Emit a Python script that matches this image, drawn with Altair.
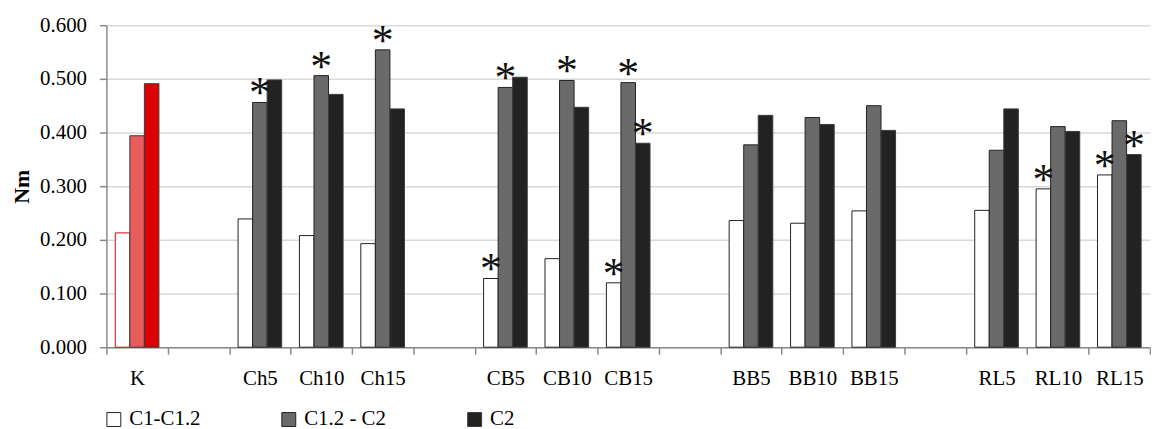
import altair as alt
import pandas as pd

# ---- data ----
categories = ["K", "Ch5", "Ch10", "Ch15", "CB5", "CB10", "CB15",
              "BB5", "BB10", "BB15", "RL5", "RL10", "RL15"]
# x slots, with empty gaps between groups
slots = ["K", " ", "Ch5", "Ch10", "Ch15", "  ", "CB5", "CB10", "CB15",
         "   ", "BB5", "BB10", "BB15", "    ", "RL5", "RL10", "RL15"]
series = ["C1-C1.2", "C1.2 - C2", "C2"]

c1 = [0.213, 0.239, 0.208, 0.193, 0.128, 0.165, 0.120, 0.236, 0.231, 0.254, 0.255, 0.295, 0.321]
c12 = [0.394, 0.456, 0.506, 0.554, 0.484, 0.497, 0.493, 0.377, 0.428, 0.450, 0.367, 0.411, 0.422]
c2 = [0.491, 0.498, 0.471, 0.444, 0.503, 0.447, 0.380, 0.432, 0.415, 0.404, 0.444, 0.402, 0.359]

star_c1 = [0, 0, 0, 0, 1, 0, 1, 0, 0, 0, 0, 1, 1]
star_c12 = [0, 1, 1, 1, 1, 1, 1, 0, 0, 0, 0, 0, 0]
star_c2 = [0, 0, 0, 0, 0, 0, 1, 0, 0, 0, 0, 0, 1]

y_ticks = [0.0, 0.1, 0.2, 0.3, 0.4, 0.5, 0.6]

rows = []
for i, cat in enumerate(categories):
    for s, vals, stars in zip(series, [c1, c12, c2], [star_c1, star_c12, star_c2]):
        key = s + (" (K)" if cat == "K" else "")
        rows.append(dict(cat=cat, series=s, value=vals[i], key=key,
                         star="*" if stars[i] else ""))
df = pd.DataFrame(rows)

keys = series + [s + " (K)" for s in series]
fills = ["#ffffff", "#6a6a6a", "#222222", "#ffffff", "#e85c5c", "#dd0000"]
strokes = ["#222222", "#222222", "#3a3a3a", "#e00000", "#3a3a3a", "#3a3a3a"]

FONT = "Liberation Serif"
AXIS_GREY = "#8a8a8a"

base = alt.Chart(df).encode(
    x=alt.X("cat:N", sort=slots,
            scale=alt.Scale(domain=slots, paddingInner=0, paddingOuter=0),
            axis=alt.Axis(title=None, labelAngle=0, tickBand="extent",
                          domainColor=AXIS_GREY, domainWidth=1.5,
                          tickColor=AXIS_GREY, tickWidth=1.5, tickSize=7,
                          labelFont=FONT, labelFontSize=21, labelColor="#000",
                          labelPadding=14, grid=False)),
    xOffset=alt.XOffset("series:N",
                        scale=alt.Scale(domain=series, paddingInner=0, paddingOuter=0.61)),
    y=alt.Y("value:Q", scale=alt.Scale(domain=[0, 0.6], nice=False),
            axis=alt.Axis(title="Nm", values=y_ticks, format=".3f",
                          domainColor=AXIS_GREY, domainWidth=1.5,
                          tickColor=AXIS_GREY, tickWidth=1.5, tickSize=7,
                          labelFont=FONT, labelFontSize=21, labelColor="#000",
                          labelPadding=13, gridColor="#d9d9d9", gridWidth=1.5,
                          titleFont=FONT, titleFontSize=22, titleFontWeight="bold",
                          titleColor="#000", titlePadding=6)),
)

bars = base.mark_bar(strokeWidth=1).encode(
    fill=alt.Fill("key:N", scale=alt.Scale(domain=keys, range=fills),
                  legend=alt.Legend(values=series, title=None, orient="none",
                                    legendX=-3, legendY=386, direction="horizontal",
                                    symbolType="square", symbolSize=196,
                                    symbolStrokeColor="#333333", symbolStrokeWidth=1,
                                    labelFont=FONT, labelFontSize=21, labelColor="#000",
                                    labelOffset=5, columnPadding=78, padding=0)),
    stroke=alt.Stroke("key:N", scale=alt.Scale(domain=keys, range=strokes), legend=None),
)

asterisks = base.transform_filter("datum.star != ''").mark_text(
    font=FONT, fontSize=44, baseline="alphabetic", dy=5,
    color="#111111"
).encode(text="star:N")

chart = alt.layer(bars, asterisks).properties(
    width=1050, height=324,
    autosize=alt.AutoSizeParams(type="none"),
    padding={"left": 99, "top": 16, "right": 1, "bottom": 81},
).configure_view(stroke=None)

chart.save("out.html", embed_options={"renderer": "svg", "actions": False})
